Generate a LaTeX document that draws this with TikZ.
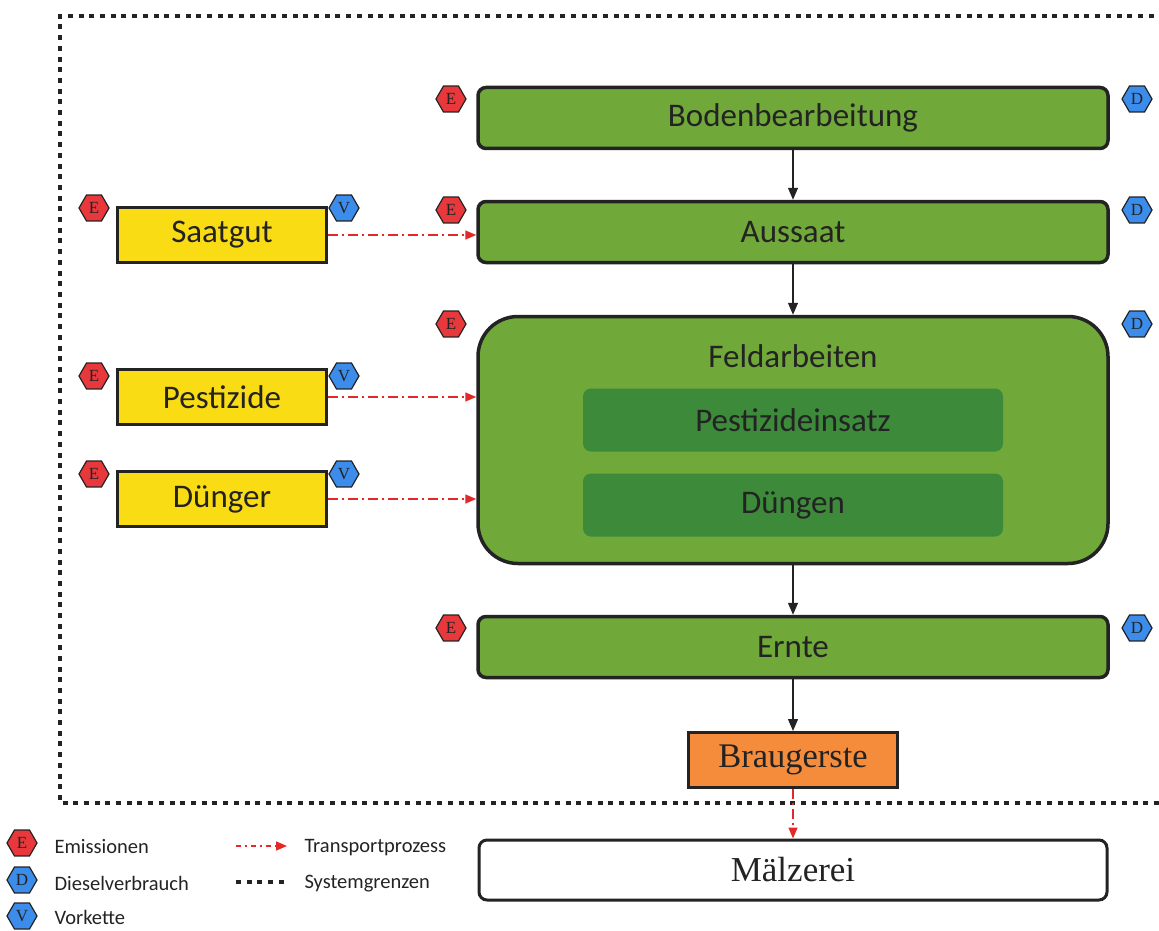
\documentclass[tikz,border=0pt]{standalone}
\usepackage{fontspec}
\setmainfont{Carlito}
\newfontfamily\timesfont{Liberation Serif}
\usetikzlibrary{shapes.geometric,arrows.meta}
\definecolor{hellgruen}{RGB}{112,168,58}
\definecolor{dunkelgruen}{RGB}{60,138,58}
\definecolor{gelb}{RGB}{250,220,20}
\definecolor{braun}{RGB}{245,140,60}
\definecolor{hexrot}{RGB}{232,56,60}
\definecolor{hexblau}{RGB}{60,140,235}
\definecolor{pfeilrot}{RGB}{228,40,40}
\definecolor{schrift}{RGB}{35,35,35}
\begin{document}
\begin{tikzpicture}[x=1pt,y=-1pt,
  prozess/.style={draw=schrift, line width=3.5pt, rounded corners=8pt, fill=hellgruen,
    minimum width=630pt, minimum height=61pt, text=schrift, font=\fontsize{33}{36}\selectfont},
  innen/.style={fill=dunkelgruen, rounded corners=8pt, minimum width=420pt, minimum height=63pt,
    text=schrift, font=\fontsize{33}{36}\selectfont},
  vorprodukt/.style={draw=schrift, line width=3pt, fill=gelb, minimum width=209pt,
    minimum height=55pt, text=schrift, font=\fontsize{33}{36}\selectfont},
  hexa/.style={regular polygon, regular polygon sides=6, minimum size=30pt, inner sep=0pt,
    draw=schrift, line width=1.2pt, text=schrift, font=\timesfont\fontsize{17}{17}\selectfont},
  hexE/.style={hexa, fill=hexrot},
  hexD/.style={hexa, fill=hexblau},
  fluss/.style={draw=schrift, line width=1.3pt, -{Triangle[length=12pt,width=10pt]}},
  transport/.style={draw=pfeilrot, line width=1.5pt, dash pattern=on 10pt off 4pt on 2pt off 4pt,
    -{Triangle[length=11pt,width=9pt]}},
  systemgrenze/.style={draw=schrift, line width=4.5pt, dash pattern=on 5pt off 5.7pt},
  legende/.style={anchor=west, text=schrift, font=\fontsize{20.5}{24}\selectfont}]
\useasboundingbox (0,0) rectangle (1159,931);
% Systemgrenze
\draw[systemgrenze] (1175,16) -- (60,16) -- (60,803) -- (1175,803);
% Prozesse Feld
\node[prozess] (boden) at (793,118) {Bodenbearbeitung};
\node[prozess] (aussaat) at (793,232) {Aussaat};
\node[prozess, minimum height=247pt, rounded corners=40pt] (feld) at (793,440) {};
\node[text=schrift, font=\fontsize{33}{36}\selectfont] (feldtitel) at (793,356) {Feldarbeiten};
\node[innen] (pestein) at (793,420) {Pestizideinsatz};
\node[innen] (duengen) at (793,505) {Düngen};
\node[prozess] (ernte) at (793,647) {Ernte};
% Produkt und Mälzerei
\node[vorprodukt, fill=braun, font=\timesfont\fontsize{34.5}{36}\selectfont] (braug) at (793,760) {Braugerste};
\node[draw=schrift, line width=3pt, rounded corners=8pt, fill=white, minimum width=628pt,
  minimum height=60pt, text=schrift, font=\timesfont\fontsize{35}{38}\selectfont] (maelz) at (793,870) {Mälzerei};
% Vorprodukte
\node[vorprodukt] (saatgut) at (222,235) {Saatgut};
\node[vorprodukt] (pest) at (222,397) {Pestizide};
\node[vorprodukt] (duenger) at (222,499) {Dünger};
% Pfeile
\draw[fluss] (boden) -- (aussaat);
\draw[fluss] (aussaat) -- (feld);
\draw[fluss] (feld) -- (ernte);
\draw[fluss] (ernte) -- (braug);
\draw[transport] (saatgut.east) -- (saatgut.east -| aussaat.west);
\draw[transport] (pest.east) -- (pest.east -| feld.west);
\draw[transport] (duenger.east) -- (duenger.east -| feld.west);
\draw[transport] (braug.south) -- (maelz.north);
% Sechsecke
\node[hexE] (e1) at (451,99) {E};
\node[hexD] (d1) at (1137,99) {D};
\node[hexE] (e2) at (451,210) {E};
\node[hexD] (d2) at (1137,210) {D};
\node[hexE] (e3) at (451,324) {E};
\node[hexD] (d3) at (1137,324) {D};
\node[hexE] (e4) at (451,628) {E};
\node[hexD] (d4) at (1137,628) {D};
\node[hexE] (e5) at (94,208) {E};
\node[hexD] (v1) at (344,208) {V};
\node[hexE] (e6) at (94,376) {E};
\node[hexD] (v2) at (344,376) {V};
\node[hexE] (e7) at (94,474) {E};
\node[hexD] (v3) at (344,474) {V};
% Legende
\node[hexE] (le) at (22,843) {E};
\node[hexD] (ld) at (22,880) {D};
\node[hexD] (lv) at (22,916) {V};
\node[legende] (lemis) at (51,847) {Emissionen};
\node[legende] (ldiesel) at (51,883) {Dieselverbrauch};
\node[legende] (lvork) at (51,917) {Vorkette};
\coordinate (lt1) at (236,846);
\coordinate (lt2) at (287,846);
\coordinate (ls1) at (236,882);
\coordinate (ls2) at (287,882);
\draw[transport, dash pattern=on 5pt off 4pt on 2pt off 4pt] (lt1) -- (lt2);
\draw[systemgrenze] (ls1) -- (ls2);
\node[legende] (ltrans) at (301,848) {Transportprozess};
\node[legende] (lsys) at (301,884) {Systemgrenzen};
\end{tikzpicture}
\end{document}
